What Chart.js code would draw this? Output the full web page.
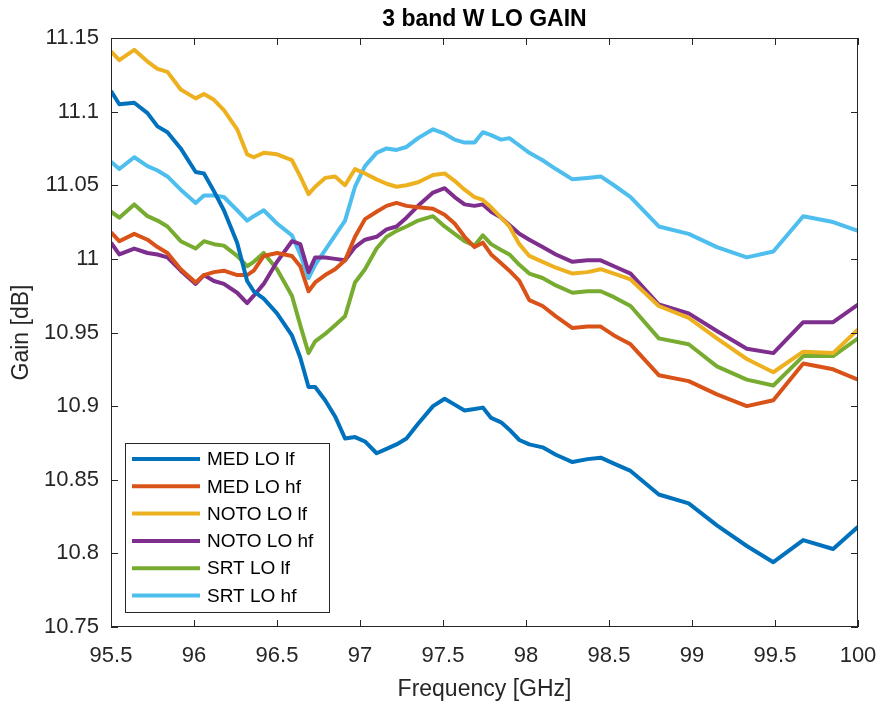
<!DOCTYPE html>
<html>
<head>
<meta charset="utf-8">
<title>3 band W LO GAIN</title>
<script src="https://cdn.jsdelivr.net/npm/chart.js@4.4.1/dist/chart.umd.min.js"></script>
<style>
  html, body { margin: 0; padding: 0; background: #fff; }
  #wrap { width: 880px; height: 706px; }
</style>
</head>
<body>
<div id="wrap"><canvas id="gain" width="880" height="706"></canvas></div>
<script>
// W band LO gain sweep, three receiver sites, low / high feed
const freqGHz = [
  95.50, 95.55, 95.64, 95.72, 95.78, 95.84, 95.92, 96.01, 96.06, 96.12, 96.18,
  96.26, 96.32, 96.36, 96.42, 96.50, 96.59, 96.64, 96.69, 96.73, 96.79, 96.85, 96.91, 96.97,
  97.03, 97.10, 97.16, 97.22, 97.28, 97.35, 97.44, 97.51, 97.57, 97.63, 97.69, 97.74, 97.79, 97.85, 97.90, 97.96,
  98.02, 98.10, 98.18, 98.28, 98.37, 98.45, 98.53, 98.63,
  98.80, 98.98, 99.15, 99.33, 99.49, 99.67, 99.85, 100.00
];
const medLoLf = [
  11.114, 11.105, 11.106, 11.099, 11.090, 11.086, 11.075, 11.059, 11.058, 11.046, 11.033,
  11.011, 10.985, 10.978, 10.973, 10.963, 10.948, 10.933, 10.913, 10.913, 10.904, 10.893, 10.878, 10.879,
  10.876, 10.868, 10.871, 10.874, 10.878, 10.888, 10.900, 10.905, 10.901, 10.897, 10.898, 10.899, 10.892, 10.889, 10.884, 10.877,
  10.874, 10.872, 10.867, 10.862, 10.864, 10.865, 10.861, 10.856,
  10.840, 10.834, 10.819, 10.805, 10.794, 10.809, 10.803, 10.818
];
const medLoHf = [
  11.018, 11.012, 11.017, 11.013, 11.008, 11.004, 10.993, 10.984, 10.989, 10.991, 10.992,
  10.989, 10.989, 10.992, 11.002, 11.004, 11.002, 10.995, 10.978, 10.984, 10.989, 10.993, 10.999, 11.015,
  11.027, 11.032, 11.036, 11.038, 11.036, 11.035, 11.034, 11.030, 11.024, 11.015, 11.008, 11.011, 11.003, 10.997, 10.992, 10.985,
  10.972, 10.968, 10.961, 10.953, 10.954, 10.954, 10.948, 10.942,
  10.921, 10.917, 10.908, 10.900, 10.904, 10.929, 10.925, 10.918
];
const notoLoLf = [
  11.141, 11.135, 11.142, 11.134, 11.129, 11.127, 11.115, 11.109, 11.112, 11.108, 11.101,
  11.088, 11.071, 11.069, 11.072, 11.071, 11.067, 11.056, 11.044, 11.049, 11.055, 11.056, 11.050, 11.061,
  11.058, 11.054, 11.051, 11.049, 11.050, 11.052, 11.057, 11.058, 11.053, 11.047, 11.042, 11.040, 11.035, 11.028, 11.022, 11.010,
  11.002, 10.998, 10.994, 10.990, 10.991, 10.993, 10.990, 10.986,
  10.968, 10.960, 10.946, 10.932, 10.923, 10.937, 10.936, 10.952
];
const notoLoHf = [
  11.011, 11.003, 11.007, 11.004, 11.003, 11.001, 10.992, 10.983, 10.989, 10.985, 10.983,
  10.977, 10.970, 10.975, 10.983, 10.998, 11.012, 11.010, 10.991, 11.001, 11.001, 11.000, 10.999, 11.008,
  11.013, 11.015, 11.020, 11.022, 11.028, 11.036, 11.045, 11.048, 11.042, 11.037, 11.036, 11.037, 11.032, 11.028, 11.023, 11.017,
  11.013, 11.008, 11.003, 10.998, 10.999, 10.999, 10.995, 10.990,
  10.969, 10.963, 10.951, 10.939, 10.936, 10.957, 10.957, 10.969
];
const srtLoLf = [
  11.032, 11.028, 11.037, 11.029, 11.026, 11.022, 11.012, 11.007, 11.012, 11.010, 11.009,
  11.002, 10.995, 10.998, 11.004, 10.993, 10.975, 10.955, 10.936, 10.944, 10.949, 10.955, 10.961, 10.984,
  10.993, 11.007, 11.015, 11.019, 11.022, 11.026, 11.029, 11.022, 11.017, 11.012, 11.009, 11.016, 11.010, 11.006, 11.003, 10.996,
  10.990, 10.987, 10.982, 10.977, 10.978, 10.978, 10.974, 10.968,
  10.946, 10.942, 10.927, 10.918, 10.914, 10.934, 10.934, 10.946
];
const srtLoHf = [
  11.066, 11.061, 11.069, 11.063, 11.060, 11.056, 11.047, 11.038, 11.043, 11.043, 11.042,
  11.033, 11.026, 11.029, 11.033, 11.024, 11.016, 11.003, 10.987, 10.996, 11.006, 11.016, 11.026, 11.049,
  11.063, 11.072, 11.075, 11.074, 11.076, 11.082, 11.088, 11.085, 11.081, 11.079, 11.079, 11.086, 11.084, 11.081, 11.082, 11.077,
  11.072, 11.067, 11.061, 11.054, 11.055, 11.056, 11.050, 11.042,
  11.022, 11.017, 11.008, 11.001, 11.005, 11.029, 11.025, 11.019
];

const seriesNames = ["MED LO lf", "MED LO hf", "NOTO LO lf", "NOTO LO hf", "SRT LO lf", "SRT LO hf"];
const seriesValues = [medLoLf, medLoHf, notoLoLf, notoLoHf, srtLoLf, srtLoHf];
const seriesColors = ["#0072BD", "#D95319", "#EDB120", "#7E2F8E", "#77AC30", "#4DBEEE"];

const xTicks = [95.5, 96, 96.5, 97, 97.5, 98, 98.5, 99, 99.5, 100];
const yTicks = [10.75, 10.8, 10.85, 10.9, 10.95, 11, 11.05, 11.1, 11.15];

const AXIS = "#262626";
const FONT = "'Liberation Sans', Arial, Helvetica, sans-serif";
const TICK = 7;

// box, inward ticks, title and the legend panel in the lower left corner
const framePlugin = {
  id: "frame",
  afterDraw(chart) {
    const { ctx, chartArea: a, scales: { x, y } } = chart;
    ctx.save();
    ctx.strokeStyle = AXIS;
    ctx.lineWidth = 1;
    ctx.strokeRect(a.left + 0.5, a.top + 0.5, a.right - a.left - 1, a.bottom - a.top - 1);

    ctx.beginPath();
    xTicks.forEach(v => {
      const px = Math.round(x.getPixelForValue(v)) + 0.5;
      ctx.moveTo(px, a.bottom); ctx.lineTo(px, a.bottom - TICK);
      ctx.moveTo(px, a.top); ctx.lineTo(px, a.top + TICK);
    });
    yTicks.forEach(v => {
      const py = Math.round(y.getPixelForValue(v)) + 0.5;
      ctx.moveTo(a.left, py); ctx.lineTo(a.left + TICK, py);
      ctx.moveTo(a.right, py); ctx.lineTo(a.right - TICK, py);
    });
    ctx.stroke();

    ctx.fillStyle = "#000";
    ctx.font = "bold 23px " + FONT;
    ctx.textAlign = "center";
    ctx.textBaseline = "middle";
    ctx.fillText("3 band W LO GAIN", (a.left + a.right) / 2, 20);

    // legend
    const lx = 125, ly = 443, lw = 204, lh = 169, row = 27.3;
    ctx.fillStyle = "#fff";
    ctx.fillRect(lx, ly, lw, lh);
    ctx.strokeStyle = AXIS;
    ctx.lineWidth = 1;
    ctx.strokeRect(lx + 0.5, ly + 0.5, lw, lh);
    ctx.font = "19px " + FONT;
    ctx.textAlign = "left";
    chart.data.datasets.forEach((ds, i) => {
      const cy = ly + 16 + i * row;
      ctx.strokeStyle = ds.borderColor;
      ctx.lineWidth = 4;
      ctx.beginPath();
      ctx.moveTo(lx + 7, cy); ctx.lineTo(lx + 75, cy);
      ctx.stroke();
      ctx.fillStyle = "#000";
      ctx.fillText(ds.label, lx + 82, cy + 1);
    });
    ctx.restore();
  }
};

new Chart(document.getElementById("gain"), {
  type: "line",
  data: {
    datasets: seriesNames.map((name, i) => ({
      label: name,
      data: freqGHz.map((f, k) => ({ x: f, y: seriesValues[i][k] })),
      borderColor: seriesColors[i],
      backgroundColor: seriesColors[i],
      borderWidth: 4,
      borderJoinStyle: "round",
      pointRadius: 0,
      tension: 0,
      fill: false
    }))
  },
  options: {
    responsive: false,
    animation: false,
    events: [],
    layout: { padding: { top: 38, right: 22, left: 0, bottom: 0 } },
    plugins: { legend: { display: false }, tooltip: { enabled: false }, title: { display: false } },
    scales: {
      x: {
        type: "linear",
        min: 95.5,
        max: 100,
        afterBuildTicks: s => { s.ticks = xTicks.map(v => ({ value: v })); },
        afterFit: s => { s.height = 79; s.paddingLeft = 0; s.paddingRight = 0; },
        grid: { display: false },
        border: { display: false },
        ticks: {
          color: AXIS, padding: 8, maxRotation: 0, autoSkip: false,
          font: { family: FONT, size: 22 },
          callback: v => String(v)
        },
        title: {
          display: true, text: "Frequency [GHz]", color: AXIS,
          font: { family: FONT, size: 23, lineHeight: 1 },
          padding: { top: 0, bottom: 5 }
        }
      },
      y: {
        min: 10.75,
        max: 11.15,
        afterBuildTicks: s => { s.ticks = yTicks.map(v => ({ value: v })); },
        afterFit: s => { s.width = 111; s.paddingTop = 0; s.paddingBottom = 0; },
        grid: { display: false },
        border: { display: false },
        ticks: {
          color: AXIS, padding: 4, autoSkip: false,
          font: { family: FONT, size: 22 },
          callback: v => String(+v.toFixed(2))
        },
        title: {
          display: true, text: "Gain [dB]", color: AXIS,
          font: { family: FONT, size: 23, lineHeight: 1 },
          padding: { top: 10, bottom: 0 }
        }
      }
    }
  },
  plugins: [framePlugin]
});
</script>
</body>
</html>
